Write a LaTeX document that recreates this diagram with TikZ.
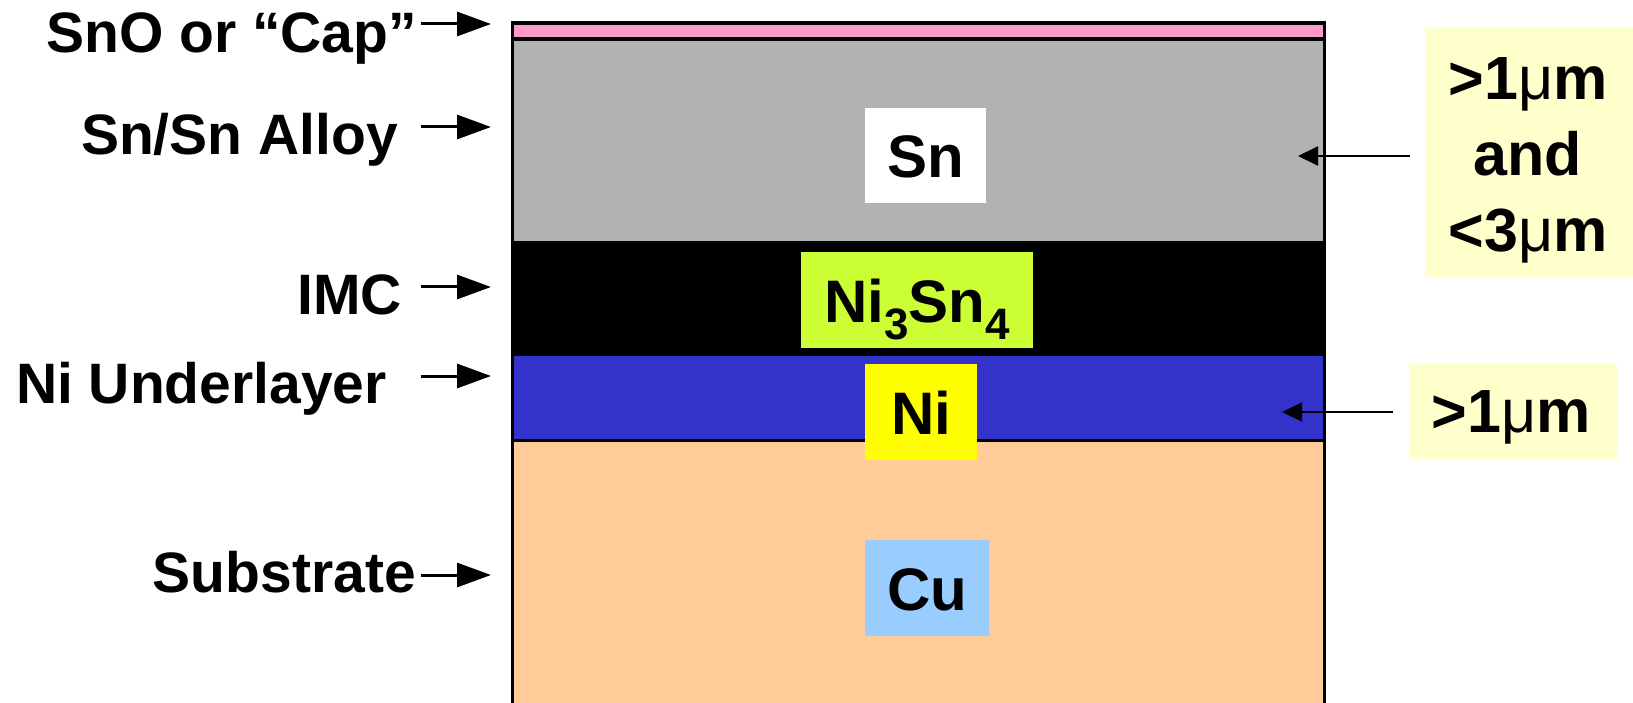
\documentclass[tikz,border=0pt]{standalone}
\usepackage{fontspec}
\setmainfont{Liberation Sans}
\usetikzlibrary{arrows.meta}
\definecolor{capc}{HTML}{FF99CC}
\definecolor{snc}{HTML}{B2B2B2}
\definecolor{nic}{HTML}{3333CC}
\definecolor{cuc}{HTML}{FFCC99}
\definecolor{imctag}{HTML}{CCFF33}
\definecolor{nitag}{HTML}{FFFF00}
\definecolor{cutag}{HTML}{99CCFF}
\definecolor{notec}{HTML}{FFFFCC}
\begin{document}
\begin{tikzpicture}[x=1pt,y=-1pt,
  lbl/.style={font=\fontsize{57}{68}\selectfont\bfseries, inner sep=0pt, anchor=base east},
  larrow/.style={line width=3pt, -{Triangle[length=34pt,width=24pt]}},
  rarrow/.style={line width=2pt, -{Triangle[length=20pt,width=19pt]}},
  tag/.style={font=\fontsize{60}{70}\selectfont\bfseries, inner sep=0pt, text height=44pt, text depth=0pt, anchor=north west},
  notebox/.style={fill=notec, inner sep=0pt, anchor=north west},
  notetext/.style={font=\fontsize{61}{76}\selectfont\bfseries, inner sep=0pt, anchor=base}
]
\useasboundingbox (0,0) rectangle (1633,703);
% layers
\fill[capc] (512.5,23) rectangle (1324.5,39);
\fill[snc] (512.5,39) rectangle (1324.5,241);
\fill[black] (512.5,241) rectangle (1324.5,356);
\fill[nic] (512.5,356) rectangle (1324.5,440.5);
\fill[cuc] (512.5,440.5) rectangle (1324.5,703);
\draw[line width=4pt] (512.5,39) -- (1324.5,39);
\draw[line width=3pt] (512.5,440.5) -- (1324.5,440.5);
\draw[line width=3.5pt, miter limit=10] (512.5,703) -- (512.5,23) -- (1324.5,23) -- (1324.5,703);
% tags
\node[tag, fill=white, minimum width=121pt, minimum height=95pt] (sn) at (865,108) {Sn};
\node[tag, fill=imctag, minimum width=232pt, minimum height=96pt] (imc) at (801,252)
  {Ni\raisebox{-17pt}{\fontsize{44}{44}\selectfont 3}Sn\raisebox{-17pt}{\fontsize{44}{44}\selectfont 4}};
\node[tag, fill=nitag, minimum width=112pt, minimum height=96pt] (ni) at (865,364) {Ni};
\node[tag, fill=cutag, minimum width=124pt, minimum height=96pt] (cu) at (865,540) {Cu};
% left labels
\node[lbl] (lcap) at (417,53) {SnO or “Cap”};
\node[lbl] (lsn) at (398,155) {Sn/Sn Alloy};
\node[lbl] (limc) at (402,315) {IMC};
\node[lbl] (lni) at (387,403) {Ni Underlayer};
\node[lbl] (lsub) at (416,592) {Substrate};
\coordinate (a1s) at (421,24);  \coordinate (a1e) at (491,24);
\coordinate (a2s) at (421,127); \coordinate (a2e) at (491,127);
\coordinate (a3s) at (421,287); \coordinate (a3e) at (491,287);
\coordinate (a4s) at (421,376); \coordinate (a4e) at (491,376);
\coordinate (a5s) at (421,575); \coordinate (a5e) at (491,575);
\draw[larrow] (a1s) -- (a1e);
\draw[larrow] (a2s) -- (a2e);
\draw[larrow] (a3s) -- (a3e);
\draw[larrow] (a4s) -- (a4e);
\draw[larrow] (a5s) -- (a5e);
% right notes
\node[notebox, minimum width=208pt, minimum height=249pt] (note1) at (1425,28) {};
\node[notetext] (note1t) at (1528,100) {\begin{tabular}[t]{@{}c@{}}>1{\mdseries μ}m\\and\\<3{\mdseries μ}m\end{tabular}};
\node[notebox, minimum width=208pt, minimum height=95pt] (note2) at (1409,364) {};
\node[notetext] (note2t) at (1511,432) {>1{\mdseries μ}m};
\coordinate (t1) at (1298,156);
\coordinate (t2) at (1282,412);
\draw[rarrow] ([xshift=-15pt]t1 -| note1.west) -- (t1);
\draw[rarrow] ([xshift=-16pt]t2 -| note2.west) -- (t2);
\end{tikzpicture}
\end{document}
